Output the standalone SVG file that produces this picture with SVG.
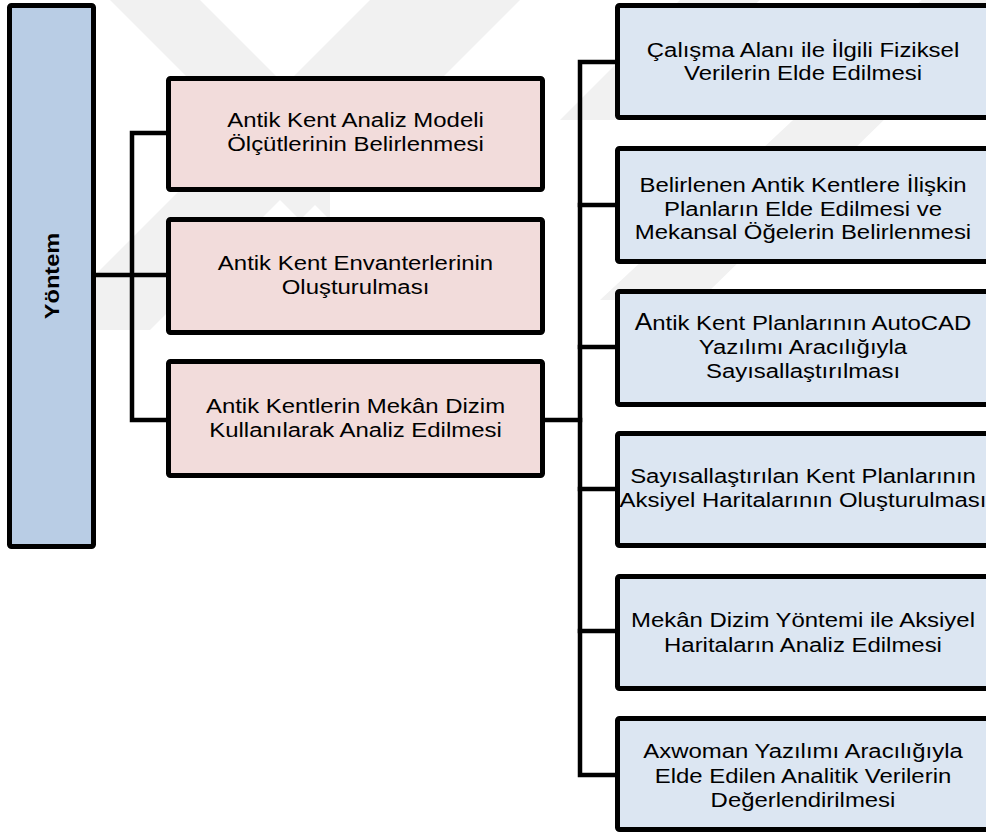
<svg xmlns="http://www.w3.org/2000/svg" width="986" height="834" viewBox="0 0 986 834">
<style>
.bg{fill:#ffffff}
.wm{fill:#f1f1f1}
.root{fill:#b9cde5;stroke:#000;stroke-width:5}
.pink{fill:#f2dcdb;stroke:#000;stroke-width:5}
.blue{fill:#dce6f2;stroke:#000;stroke-width:5}
.conn{fill:none;stroke:#000;stroke-width:4.5;stroke-linejoin:miter;stroke-linecap:square}
.t{font-family:"Liberation Sans",Arial,sans-serif;font-size:21px;fill:#000;text-anchor:middle}
.tb{font-family:"Liberation Sans",Arial,sans-serif;font-size:20px;font-weight:bold;fill:#000;text-anchor:middle}
</style>
<rect class="bg" x="0" y="0" width="986" height="834"/>
<g id="watermark">
<polygon class="wm" points="110,0 200,0 330,130 330,220"/>
<polygon class="wm" points="40,330 150,330 480,0 370,0"/>
<polygon class="wm" points="420,0 520,0 300,220 250,170"/>
<polygon class="wm" points="560,120 620,120 760,0 680,0"/>
<polygon class="wm" points="600,300 700,300 986,20 986,-60"/>
</g>
<g id="connectors">
<path class="conn" d="M96,275 H166"/>
<path class="conn" d="M166,133 H132 V420 H166"/>
<path class="conn" d="M545,420 H580"/>
<path class="conn" d="M615,62 H580 V775 H615"/>
<path class="conn" d="M580,205 H615"/>
<path class="conn" d="M580,347 H615"/>
<path class="conn" d="M580,489 H615"/>
<path class="conn" d="M580,631 H615"/>
</g>
<g id="yontem">
<rect class="root" x="9.5" y="5.5" width="84" height="541" rx="2"/>
<text class="tb" transform="translate(59,276) rotate(-90) scale(1.18,1)" x="0" y="0">Yöntem</text>
</g>
<g id="p1">
<rect class="pink" x="168.5" y="78.5" width="374" height="111" rx="2"/>
<text class="t" transform="translate(355.5,0) scale(1.14,1)"><tspan x="0" y="127">Antik Kent Analiz Modeli</tspan><tspan x="0" y="151">Ölçütlerinin Belirlenmesi</tspan></text>
</g>
<g id="p2">
<rect class="pink" x="168.5" y="219.5" width="374" height="113" rx="2"/>
<text class="t" transform="translate(355.5,0) scale(1.14,1)"><tspan x="0" y="270">Antik Kent Envanterlerinin</tspan><tspan x="0" y="294">Oluşturulması</tspan></text>
</g>
<g id="p3">
<rect class="pink" x="168.5" y="361.5" width="374" height="114" rx="2"/>
<text class="t" transform="translate(355.5,0) scale(1.14,1)"><tspan x="0" y="413">Antik Kentlerin Mekân Dizim</tspan><tspan x="0" y="437">Kullanılarak Analiz Edilmesi</tspan></text>
</g>
<g id="b1">
<rect class="blue" x="617.5" y="5.5" width="380" height="112" rx="2"/>
<text class="t" transform="translate(803,0) scale(1.14,1)"><tspan x="0" y="57">Çalışma Alanı ile İlgili Fiziksel</tspan><tspan x="0" y="80">Verilerin Elde Edilmesi</tspan></text>
</g>
<g id="b2">
<rect class="blue" x="617.5" y="148.5" width="380" height="113" rx="2"/>
<text class="t" transform="translate(803,0) scale(1.14,1)"><tspan x="0" y="192">Belirlenen Antik Kentlere İlişkin</tspan><tspan x="0" y="216">Planların Elde Edilmesi ve</tspan><tspan x="0" y="239">Mekansal Öğelerin Belirlenmesi</tspan></text>
</g>
<g id="b3">
<rect class="blue" x="617.5" y="291.5" width="380" height="113" rx="2"/>
<text class="t" transform="translate(803,0) scale(1.14,1)"><tspan x="0" y="330"><tspan font-size="23">A</tspan>ntik Kent Planlarının AutoCAD</tspan><tspan x="0" y="354">Yazılımı Aracılığıyla</tspan><tspan x="0" y="378">Sayısallaştırılması</tspan></text>
</g>
<g id="b4">
<rect class="blue" x="617.5" y="433.5" width="380" height="112" rx="2"/>
<text class="t" transform="translate(803,0) scale(1.14,1)"><tspan x="0" y="483">Sayısallaştırılan Kent Planlarının</tspan><tspan x="0" y="507">Aksiyel Haritalarının Oluşturulması</tspan></text>
</g>
<g id="b5">
<rect class="blue" x="617.5" y="576.5" width="380" height="112" rx="2"/>
<text class="t" transform="translate(803,0) scale(1.14,1)"><tspan x="0" y="627">Mekân Dizim Yöntemi ile Aksiyel</tspan><tspan x="0" y="652">Haritaların Analiz Edilmesi</tspan></text>
</g>
<g id="b6">
<rect class="blue" x="617.5" y="718.5" width="380" height="111" rx="2"/>
<text class="t" transform="translate(803,0) scale(1.14,1)"><tspan x="0" y="758">Axwoman Yazılımı Aracılığıyla</tspan><tspan x="0" y="783">Elde Edilen Analitik Verilerin</tspan><tspan x="0" y="807">Değerlendirilmesi</tspan></text>
</g>
</svg>
